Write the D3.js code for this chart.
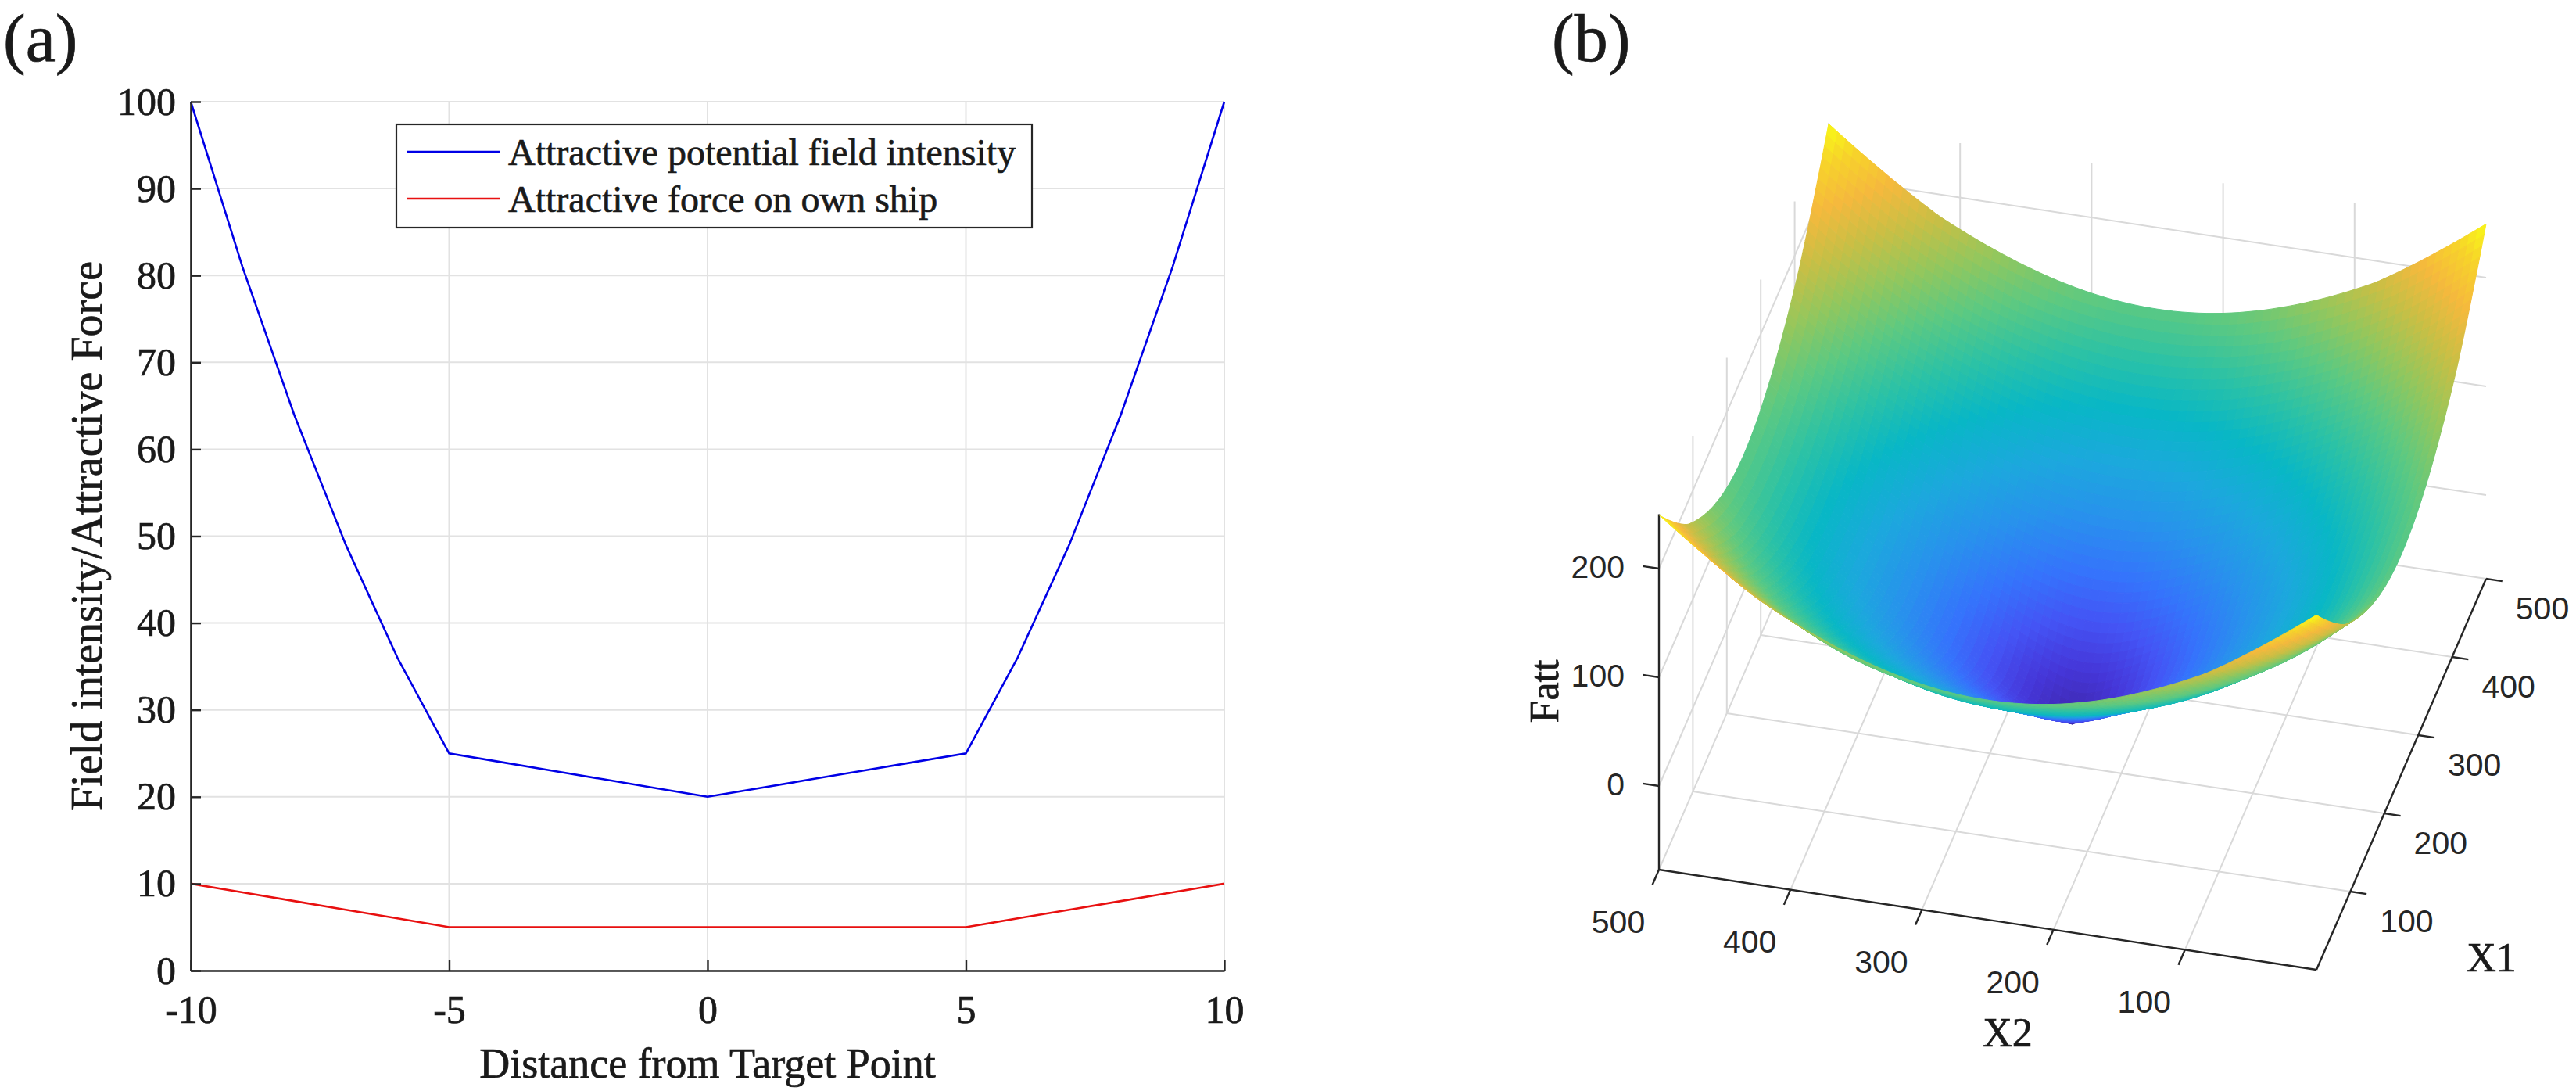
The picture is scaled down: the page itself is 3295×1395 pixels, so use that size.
<!DOCTYPE html>
<html>
<head>
<meta charset="utf-8">
<script src="https://cdn.jsdelivr.net/npm/d3@7/dist/d3.min.js"></script>
<style>
  body { margin: 0; background: #fff; }
</style>
</head>
<body>
<script>
// ---------- panel (a) data
var distance = [-10, -9, -8, -7, -6, -5, -4, -3, -2, -1, 0, 1, 2, 3, 4, 5, 6, 7, 8, 9, 10];
var fieldIntensity = [100, 81, 64, 49, 36, 25, 24, 23, 22, 21, 20, 21, 22, 23, 24, 25, 36, 49, 64, 81, 100];
var attractiveForce = [10, 9, 8, 7, 6, 5, 5, 5, 5, 5, 5, 5, 5, 5, 5, 5, 6, 7, 8, 9, 10];
var xTicksA = [-10, -5, 0, 5, 10];
var yTicksA = [0, 10, 20, 30, 40, 50, 60, 70, 80, 90, 100];
var legendLabels = ["Attractive potential field intensity", "Attractive force on own ship"];

// ---------- panel (b) data
var x1Domain = [0, 500];
var x2Domain = [0, 500];
var x1Ticks = [100, 200, 300, 400, 500];
var x2Ticks = [100, 200, 300, 400, 500];
var zTicks = [0, 100, 200];
var fattCentre = [250, 250];
// radial cut of the Fatt surface
var fattRadius = [0, 25, 50, 75, 100, 150, 200, 250, 300, 354];
var fattProfile = [-77, -57, -38, -18, 2, 41, 80, 125, 180, 250];

var serif = "'Liberation Serif', 'Times New Roman', serif";
var sans = "'Liberation Sans', Arial, sans-serif";
var axisColor = "#262626";
var textColor = "#1a1a1a";
var gridColor = "#e2e2e2";

var svg = d3.select("body")
    .append("svg")
        .attr("width", 3295)
        .attr("height", 1395);

// slightly heavier serif, like the original print
function serifText(sel, size) {
    return sel.attr("font-family", serif)
        .attr("font-size", size)
        .attr("fill", textColor)
        .attr("stroke", textColor)
        .attr("stroke-width", 0.7);
}

// ================= panel (a) =================
var xA = d3.scaleLinear().domain([-10, 10]).range([244, 1566]);
var yA = d3.scaleLinear().domain([0, 100]).range([1241, 130]);

var gridA = svg.append("g");
gridA.selectAll("line.v").data(xTicksA).join("line")
    .attr("x1", d => xA(d)).attr("x2", d => xA(d))
    .attr("y1", yA(0)).attr("y2", yA(100))
    .attr("stroke", gridColor).attr("stroke-width", 2);
gridA.selectAll("line.h").data(yTicksA).join("line")
    .attr("x1", xA(-10)).attr("x2", xA(10))
    .attr("y1", d => yA(d)).attr("y2", d => yA(d))
    .attr("stroke", gridColor).attr("stroke-width", 2);

var lineA = d3.line()
    .x((d, i) => xA(distance[i]))
    .y(d => yA(d));

svg.append("path")
    .attr("d", lineA(fieldIntensity))
    .attr("fill", "none")
    .attr("stroke", "#0000e6")
    .attr("stroke-width", 2.6);

svg.append("path")
    .attr("d", lineA(attractiveForce))
    .attr("fill", "none")
    .attr("stroke", "#e81010")
    .attr("stroke-width", 2.6);

var plainNum = d => String(d);
var yAxisA = svg.append("g")
    .attr("transform", "translate(" + xA(-10) + ",0)")
    .call(d3.axisLeft(yA).tickValues(yTicksA).tickFormat(plainNum)
        .tickSize(-13).tickSizeOuter(0).tickPadding(19));
var xAxisA = svg.append("g")
    .attr("transform", "translate(0," + yA(0) + ")")
    .call(d3.axisBottom(xA).tickValues(xTicksA).tickFormat(plainNum)
        .tickSize(-13).tickSizeOuter(0).tickPadding(31));

[yAxisA, xAxisA].forEach(function(g) {
    g.attr("color", axisColor);
    g.select(".domain").attr("stroke-width", 2.6);
    g.selectAll(".tick line").attr("stroke-width", 2.4);
    serifText(g.selectAll(".tick text"), 50);
});

serifText(svg.append("text"), 54)
    .text("Distance from Target Point")
    .attr("x", (xA(-10) + xA(10)) / 2)
    .attr("y", 1378)
    .attr("text-anchor", "middle");

serifText(svg.append("text"), 56)
    .text("Field intensity/Attractive Force")
    .attr("transform", "translate(130," + (yA(0) + yA(100)) / 2 + ") rotate(-90)")
    .attr("text-anchor", "middle");

// legend
var legend = svg.append("g");
legend.append("rect")
    .attr("x", 507).attr("y", 159)
    .attr("width", 813).attr("height", 132)
    .attr("fill", "#fff")
    .attr("stroke", axisColor)
    .attr("stroke-width", 2.2);
var legendColors = ["#0000e6", "#e81010"];
legendLabels.forEach(function(d, i) {
    var ly = 194 + i * 60;
    legend.append("line")
        .attr("x1", 520).attr("x2", 640)
        .attr("y1", ly).attr("y2", ly)
        .attr("stroke", legendColors[i])
        .attr("stroke-width", 2.6);
    serifText(legend.append("text"), 48)
        .text(d)
        .attr("x", 650)
        .attr("y", ly + 17);
});

serifText(svg.append("text"), 86)
    .text("(a)")
    .attr("x", 4).attr("y", 78);

serifText(svg.append("text"), 86)
    .text("(b)")
    .attr("x", 1985).attr("y", 78);

// ================= panel (b) =================
// orthographic view: screen position of the box corner (x1=0, x2=0, z=min)
// and the screen vectors spanned by the full x1, x2 and z ranges
var origin3 = [2963, 1240];
var ex1 = [217, -500];
var ex2 = [-841, -128];
var ez = [0, -454.5];

var zDomain = d3.extent(fattProfile);
var sx1 = d3.scaleLinear().domain(x1Domain).range([0, 1]);
var sx2 = d3.scaleLinear().domain(x2Domain).range([0, 1]);
var sz = d3.scaleLinear().domain(zDomain).range([0, 1]);
var fattAt = d3.scaleLinear().domain(fattRadius).range(fattProfile).clamp(true);

function project(x1, x2, z) {
    var u = sx1(x1), v = sx2(x2), w = sz(z);
    return [origin3[0] + u * ex1[0] + v * ex2[0] + w * ez[0],
            origin3[1] + u * ex1[1] + v * ex2[1] + w * ez[1]];
}
// distance toward the viewer (bigger = nearer), for painter's order
function nearness(x1, x2, z) {
    return -680 * sx1(x1) - 174 * sx2(x2) + 334 * sz(z);
}

var parula = d3.scaleLinear()
    .domain([0, 0.08, 0.15, 0.22, 0.30, 0.38, 0.46, 0.54, 0.62, 0.70, 0.78, 0.86, 0.93, 1])
    .range(["#3e26a8", "#4536d9", "#4454f5", "#3573fc", "#2891ed", "#1ca8dd", "#08b7c6",
            "#2cc2a5", "#5cc982", "#91c75e", "#c8bf45", "#f5b93d", "#f7d22b", "#f9fb15"])
    .interpolate(d3.interpolateRgb);

var gridB = svg.append("g")
    .attr("stroke", "#d9d9d9")
    .attr("stroke-width", 2)
    .attr("fill", "none");
function seg(g, a, b) {
    var p = project(a[0], a[1], a[2]), q = project(b[0], b[1], b[2]);
    g.append("line")
        .attr("x1", p[0]).attr("y1", p[1])
        .attr("x2", q[0]).attr("y2", q[1]);
}
var zMin = zDomain[0], zMax = zDomain[1];
// floor
x1Ticks.forEach(t => seg(gridB, [t, x2Domain[0], zMin], [t, x2Domain[1], zMin]));
x2Ticks.forEach(t => seg(gridB, [x1Domain[0], t, zMin], [x1Domain[1], t, zMin]));
// back wall at x2 = max
x1Ticks.forEach(t => seg(gridB, [t, x2Domain[1], zMin], [t, x2Domain[1], zMax]));
zTicks.forEach(t => seg(gridB, [x1Domain[0], x2Domain[1], t], [x1Domain[1], x2Domain[1], t]));
// back wall at x1 = max
x2Ticks.forEach(t => seg(gridB, [x1Domain[1], t, zMin], [x1Domain[1], t, zMax]));
zTicks.forEach(t => seg(gridB, [x1Domain[1], x2Domain[0], t], [x1Domain[1], x2Domain[1], t]));

// axes lines + ticks
var axesB = svg.append("g")
    .attr("stroke", axisColor)
    .attr("stroke-width", 2.4);
seg(axesB, [x1Domain[0], x2Domain[1], zMin], [x1Domain[0], x2Domain[1], zMax]);
seg(axesB, [x1Domain[0], x2Domain[0], zMin], [x1Domain[0], x2Domain[1], zMin]);
seg(axesB, [x1Domain[0], x2Domain[0], zMin], [x1Domain[1], x2Domain[0], zMin]);

function unit(v) { var l = Math.hypot(v[0], v[1]); return [v[0] / l, v[1] / l]; }
var dirX2 = unit(ex2), dirX1 = unit(ex1);
var tickLen = 21;
var labelsB = svg.append("g")
    .attr("font-family", sans)
    .attr("font-size", 41)
    .attr("fill", axisColor);

zTicks.forEach(function(t) {
    var p = project(x1Domain[0], x2Domain[1], t);
    axesB.append("line")
        .attr("x1", p[0]).attr("y1", p[1])
        .attr("x2", p[0] + dirX2[0] * tickLen).attr("y2", p[1] + dirX2[1] * tickLen);
    labelsB.append("text")
        .text(t)
        .attr("x", p[0] - 44).attr("y", p[1] - 3)
        .attr("dy", "0.36em")
        .attr("text-anchor", "end");
});
x2Ticks.forEach(function(t) {
    var p = project(x1Domain[0], t, zMin);
    axesB.append("line")
        .attr("x1", p[0]).attr("y1", p[1])
        .attr("x2", p[0] - dirX1[0] * tickLen).attr("y2", p[1] - dirX1[1] * tickLen);
    labelsB.append("text")
        .text(t)
        .attr("x", p[0] - 52).attr("y", p[1] + 66)
        .attr("dy", "0.36em")
        .attr("text-anchor", "middle");
});
x1Ticks.forEach(function(t) {
    var p = project(t, x2Domain[0], zMin);
    axesB.append("line")
        .attr("x1", p[0]).attr("y1", p[1])
        .attr("x2", p[0] - dirX2[0] * tickLen).attr("y2", p[1] - dirX2[1] * tickLen);
    labelsB.append("text")
        .text(t)
        .attr("x", p[0] + 72).attr("y", p[1] + 37)
        .attr("dy", "0.36em")
        .attr("text-anchor", "middle");
});

// surface mesh
var N = 80;
var gx1 = d3.range(N + 1).map(i => sx1.invert(i / N));
var gx2 = d3.range(N + 1).map(j => sx2.invert(j / N));
var zGrid = gx1.map(a => gx2.map(b => fattAt(Math.hypot(a - fattCentre[0], b - fattCentre[1]))));

var quads = [];
for (var i = 0; i < N; i++) {
    for (var j = 0; j < N; j++) {
        var corners = [[i, j], [i + 1, j], [i + 1, j + 1], [i, j + 1]];
        var zMean = d3.mean(corners, c => zGrid[c[0]][c[1]]);
        var mx1 = (gx1[i] + gx1[i + 1]) / 2, mx2 = (gx2[j] + gx2[j + 1]) / 2;
        quads.push({
            pts: corners.map(c => project(gx1[c[0]], gx2[c[1]], zGrid[c[0]][c[1]])),
            color: parula(sz(zMean)),
            near: nearness(mx1, mx2, zMean)
        });
    }
}
quads.sort((a, b) => a.near - b.near);

svg.append("g")
    .selectAll("path")
    .data(quads)
    .join("path")
        .attr("d", d => "M" + d.pts.map(p => p[0].toFixed(1) + "," + p[1].toFixed(1)).join("L") + "Z")
        .attr("fill", d => d.color)
        .attr("stroke", d => d.color)
        .attr("stroke-width", 1)
        .attr("stroke-linejoin", "round");

// axis titles
serifText(svg.append("text"), 52)
    .text("X2")
    .attr("x", 2568).attr("y", 1320)
    .attr("dy", "0.35em")
    .attr("text-anchor", "middle");
serifText(svg.append("text"), 52)
    .text("X1")
    .attr("x", 3187).attr("y", 1224)
    .attr("dy", "0.35em")
    .attr("text-anchor", "middle");
serifText(svg.append("text"), 52)
    .text("Fatt")
    .attr("transform", "translate(1975,884) rotate(-90)")
    .attr("dy", "0.35em")
    .attr("text-anchor", "middle");
</script>
</body>
</html>
